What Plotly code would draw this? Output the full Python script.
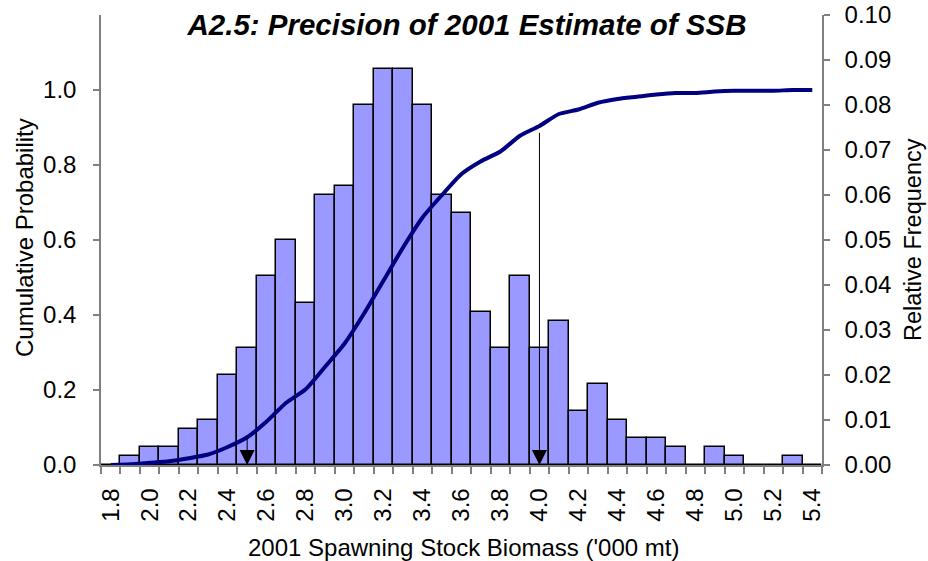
import plotly.graph_objects as go

# SSB classes ('000 mt), bar heights (relative frequency) and cumulative probability
ssb = [1.8, 1.9, 2.0, 2.1, 2.2, 2.3, 2.4, 2.5, 2.6, 2.7, 2.8, 2.9, 3.0, 3.1, 3.2, 3.3, 3.4, 3.5,
       3.6, 3.7, 3.8, 3.9, 4.0, 4.1, 4.2, 4.3, 4.4, 4.5, 4.6, 4.7, 4.8, 4.9, 5.0, 5.1, 5.2, 5.3, 5.4]
rel_freq = [0.000, 0.002, 0.004, 0.004, 0.008, 0.010, 0.020, 0.026, 0.042, 0.050, 0.036, 0.060,
            0.062, 0.080, 0.088, 0.088, 0.080, 0.060, 0.056, 0.034, 0.026, 0.042, 0.026, 0.032,
            0.012, 0.018, 0.010, 0.006, 0.006, 0.004, 0.000, 0.004, 0.002, 0.000, 0.000, 0.002, 0.000]
cum_prob = [0.000, 0.002, 0.006, 0.010, 0.018, 0.028, 0.048, 0.074, 0.116, 0.166, 0.202, 0.262,
            0.324, 0.404, 0.492, 0.580, 0.660, 0.720, 0.776, 0.810, 0.836, 0.878, 0.904, 0.936,
            0.948, 0.966, 0.976, 0.982, 0.988, 0.992, 0.992, 0.996, 0.998, 0.998, 0.998, 1.000, 1.000]
tick_labels = ["1.8", "2.0", "2.2", "2.4", "2.6", "2.8", "3.0", "3.2", "3.4", "3.6",
               "3.8", "4.0", "4.2", "4.4", "4.6", "4.8", "5.0", "5.2", "5.4"]
freq_ticks = [0.00, 0.01, 0.02, 0.03, 0.04, 0.05, 0.06, 0.07, 0.08, 0.09, 0.10]
prob_ticks = [0.0, 0.2, 0.4, 0.6, 0.8, 1.0]
# percentile markers: (ssb, top of arrow on cumulative axis)
markers = [(2.5, 0.074), (4.0, 0.89)]

FONT = "Liberation Sans, Arial, sans-serif"
GREY = "#808080"
TICK_SIZE = 24
TITLE_SIZE = 24

FIG_W, FIG_H = 928, 561
# plot area in pixels
L, R, T, B = 101, 822, 15, 465
W, H = R - L, B - T


def px_x(p):
    return (p - L) / W


def px_y(p):
    return (B - p) / H


fig = go.Figure()

fig.add_trace(go.Bar(
    x=ssb, y=rel_freq, width=0.1,
    marker=dict(color="#9999FF", line=dict(color="black", width=1.5)),
    yaxis="y", showlegend=False,
))

fig.add_trace(go.Scatter(
    x=ssb, y=cum_prob, mode="lines",
    line=dict(color="#000080", width=4, shape="spline", smoothing=0.6),
    yaxis="y2", showlegend=False,
))

for xv, top in markers:
    fig.add_annotation(
        x=xv, y=0, xref="x", yref="y2",
        ax=xv, ay=top, axref="x", ayref="y2",
        showarrow=True, arrowhead=2, arrowsize=3, arrowwidth=1,
        arrowcolor="black", text="",
    )

# axis titles placed by hand
fig.add_annotation(text="2001 Spawning Stock Biomass ('000 mt)", xref="paper", yref="paper",
                   x=px_x(463), y=px_y(547), showarrow=False,
                   font=dict(size=TITLE_SIZE), xanchor="center", yanchor="middle")
fig.add_annotation(text="Cumulative Probability", xref="paper", yref="paper",
                   x=px_x(24), y=px_y(238), showarrow=False, textangle=-90,
                   font=dict(size=TITLE_SIZE), xanchor="center", yanchor="middle")
fig.add_annotation(text="Relative Frequency", xref="paper", yref="paper",
                   x=px_x(913), y=px_y(240), showarrow=False, textangle=-90,
                   font=dict(size=23.5), xanchor="center", yanchor="middle")

minor_vals = [v - 0.05 for v in ssb] + [ssb[-1] + 0.05]

fig.update_layout(
    width=FIG_W, height=FIG_H,
    margin=dict(l=L, r=FIG_W - R, t=T, b=FIG_H - B),
    paper_bgcolor="white", plot_bgcolor="white",
    bargap=0,
    font=dict(family=FONT, color="black", size=TICK_SIZE),
    title=dict(
        text="<b><i>A2.5: Precision of 2001 Estimate of SSB</i></b>",
        x=467 / FIG_W, xref="container", xanchor="center",
        y=1 - 25 / FIG_H, yref="container", yanchor="middle",
        font=dict(family=FONT, size=29.5, color="black"),
    ),
    xaxis=dict(
        range=[1.75, 5.45], automargin=False,
        tickvals=[float(t) for t in tick_labels], ticktext=tick_labels,
        tickangle=-90, ticks="", showgrid=False, zeroline=False,
        showline=True, linecolor=GREY, linewidth=1.5,
        tickfont=dict(size=TICK_SIZE), ticklabelstandoff=12,
        minor=dict(tickvals=minor_vals, ticks="outside", ticklen=7,
                   tickcolor=GREY, tickwidth=1.5, showgrid=False),
    ),
    yaxis=dict(
        range=[0, 0.1], side="right", tickvals=freq_ticks, tickformat=".2f",
        automargin=False, ticklabeloverflow="allow",
        ticks="outside", ticklen=6, tickcolor=GREY, tickwidth=1.5,
        showgrid=False, zeroline=False,
        showline=True, linecolor=GREY, linewidth=1.5,
        tickfont=dict(size=TICK_SIZE), ticklabelstandoff=10,
    ),
    yaxis2=dict(
        range=[0, 1.2], side="left", overlaying="y", automargin=False,
        tickvals=prob_ticks, tickformat=".1f",
        ticks="outside", ticklen=6, tickcolor=GREY, tickwidth=1.5,
        showgrid=False, zeroline=False,
        showline=True, linecolor=GREY, linewidth=1.5,
        tickfont=dict(size=TICK_SIZE), ticklabelstandoff=12,
    ),
)

# drop the default page margin so the figure fills the window exactly
fig.write_html("out.html", config={"displayModeBar": False},
               post_script="document.body.style.margin = '0px';")
